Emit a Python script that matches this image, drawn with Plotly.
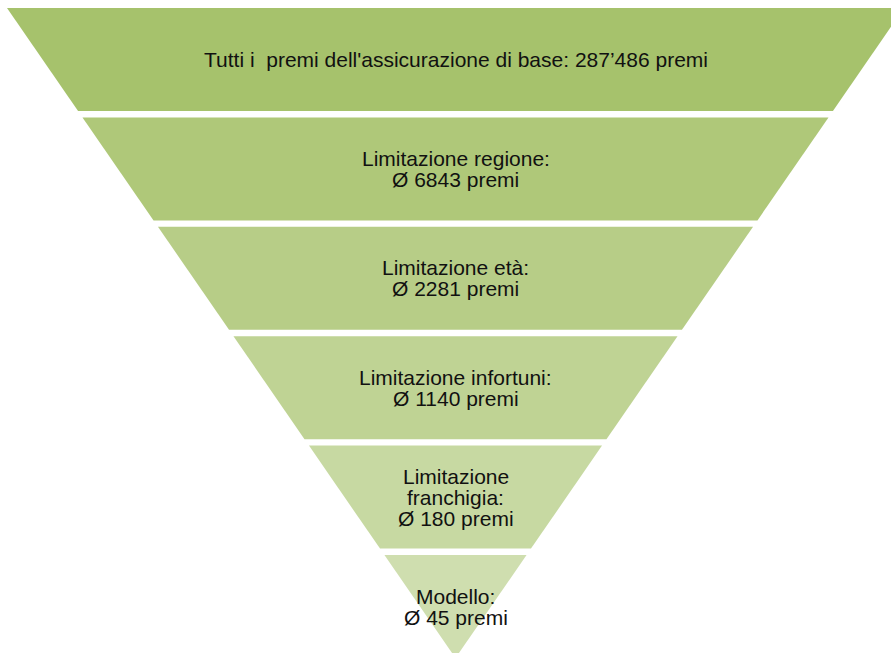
import plotly.graph_objects as go

# ---- data ----
stages = ["Tutti i premi", "Regione", "Età", "Infortuni", "Franchigia", "Modello"]
stage_labels = [
    "Tutti i\u00a0 premi dell'assicurazione di base: 287’486 premi",
    "Limitazione regione:\nØ 6843 premi",
    "Limitazione età:\nØ 2281 premi",
    "Limitazione infortuni:\nØ 1140 premi",
    "Limitazione\nfranchigia:\nØ 180 premi",
    "Modello:\nØ 45 premi",
]
stage_colors = ["#A6C26C", "#AFC879", "#B7CD87", "#BFD394", "#C7D9A2", "#CFDEAF"]

# ---- geometry (stage units) ----
n = len(stages)
band = 0.9415           # fraction of a stage filled by its band (rest is the gap)
apex = (n - 1) + band   # the inverted triangle ends at the bottom of the last band


def half_width(y):
    return 1 - y / apex


fig = go.Figure()
for i, (name, col) in enumerate(zip(stages, stage_colors)):
    top, bot = i, i + band
    xs = [-half_width(top), half_width(top), half_width(bot), -half_width(bot), -half_width(top)]
    ys = [top, top, bot, bot, top]
    fig.add_trace(go.Scatter(
        x=xs, y=ys, mode="lines", fill="toself", fillcolor=col,
        line=dict(width=0, color=col), name=name, hoverinfo="skip", showlegend=False,
    ))

line_px = 21
for i, lab in enumerate(stage_labels):
    lines = lab.split("\n")
    m = len(lines)
    for k, ln in enumerate(lines):
        fig.add_annotation(
            x=0, y=i + band / 2, xref="x", yref="y", text=ln, showarrow=False,
            xanchor="center", yanchor="middle",
            yshift=-(k - (m - 1) / 2) * line_px,
            font=dict(family="Liberation Sans, Arial, sans-serif", size=21, color="#111111"),
        )

# pixel mapping: x_px = 455.5 + 448.5*X ; y_px = 8 + 109.4*Y
W, H = 891, 653
fig.update_xaxes(range=[(0 - 455.5) / 448.5, (W - 455.5) / 448.5], visible=False,
                 showgrid=False, zeroline=False, fixedrange=True)
fig.update_yaxes(range=[(H - 8) / 109.4, (0 - 8) / 109.4], visible=False,
                 showgrid=False, zeroline=False, fixedrange=True)
fig.update_layout(
    width=W, height=H, margin=dict(l=0, r=0, t=0, b=0),
    paper_bgcolor="white", plot_bgcolor="white", showlegend=False,
)
fig.write_html(
    "out.html",
    config={"displayModeBar": False},
    post_script="document.body.style.margin='0';document.body.style.overflow='hidden';",
)
